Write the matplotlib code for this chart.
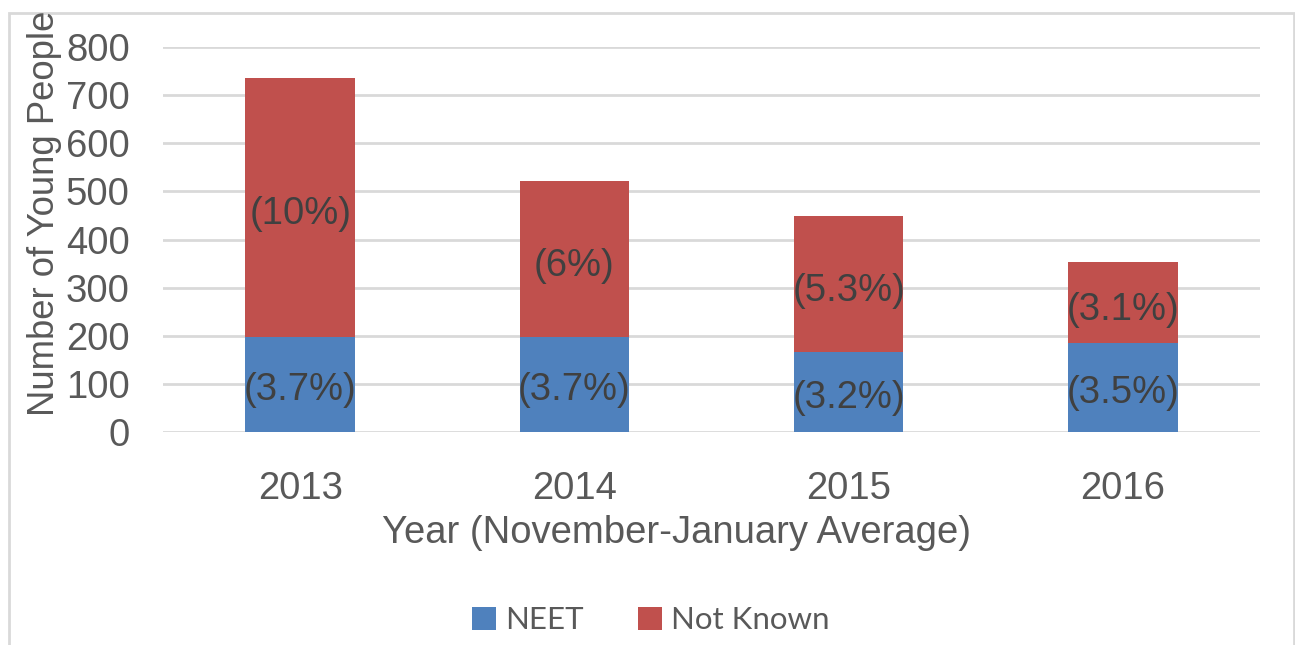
import numpy as np
import matplotlib
matplotlib.use("Agg")
from matplotlib import pyplot as plt
from matplotlib.patches import Rectangle

# values
years = ["2013", "2014", "2015", "2016"]
neet = [198, 198, 166, 185]
not_known = [538, 324, 283, 168]
neet_pct = ["(3.7%)", "(3.7%)", "(3.2%)", "(3.5%)"]
nk_pct = ["(10%)", "(6%)", "(5.3%)", "(3.1%)"]
yticks = [0, 100, 200, 300, 400, 500, 600, 700, 800]

blue = "#4f81bd"
red = "#c0504d"
grey = "#595959"
label_col = "#404040"
fsize = 27.5

plt.rcParams['font.family'] = ['Liberation Sans', 'DejaVu Sans']

fig = plt.figure(figsize=(12.95, 6.45), dpi=100)
ax = fig.add_axes([163/1295, 1 - 432/645, (1260 - 163)/1295, (432 - 47)/645])

x = np.arange(len(years))
ax.bar(x, neet, width=0.4, color=blue, label="NEET", zorder=2)
ax.bar(x, not_known, width=0.4, bottom=neet, color=red, label="Not Known", zorder=2)

# percentage labels sit slightly below the middle of each segment
for i in range(len(years)):
    ax.annotate(neet_pct[i], (x[i], neet[i] / 2), xytext=(0, -6), textcoords="offset pixels",
                ha="center", va="center", fontsize=fsize, color=label_col, zorder=3)
    ax.annotate(nk_pct[i], (x[i], neet[i] + not_known[i] / 2), xytext=(0, -7),
                textcoords="offset pixels", ha="center", va="center",
                fontsize=fsize, color=label_col, zorder=3)

ax.set_xlim(-0.5, len(years) - 0.5)
ax.set_ylim(0, 800)
ax.set_yticks(yticks)
ax.set_xticks(x)
ax.set_xticklabels(years)
ax.tick_params(axis="both", length=0, labelsize=fsize, colors=grey)
ax.tick_params(axis="y", pad=24)
ax.tick_params(axis="x", pad=28)
ax.grid(axis="y", color="#d9d9d9", linewidth=2, zorder=0)
for s in ax.spines.values():
    s.set_visible(False)

ax.set_xlabel("Year (November-January Average)", fontsize=fsize, color=grey)
ax.xaxis.set_label_coords((676 - 163) / 1097, -(533 - 432) / 385)
ax.xaxis.label.set_va("center")

# chart border
border = Rectangle((9/1295, -0.1), (1294 - 9)/1295, 1.1 - 13/645, transform=fig.transFigure,
                   fill=False, edgecolor="#d9d9d9", linewidth=2)
fig.patches.append(border)

# y title runs up to the chart border, as in the source
fig.text(45/1295, 1 - 213/645, "Number of Young People", rotation=90,
         ha="center", va="center", fontsize=26.3, color=grey)

fig.legend(loc="center", bbox_to_anchor=(651/1295, 1 - 620/645), ncol=2, frameon=False,
           prop={"family": "Lato", "size": 22.5}, labelcolor=grey,
           handlelength=0.75, handleheight=0.75, handletextpad=0.3, columnspacing=1.75)

fig.savefig("out.png", dpi=100)
